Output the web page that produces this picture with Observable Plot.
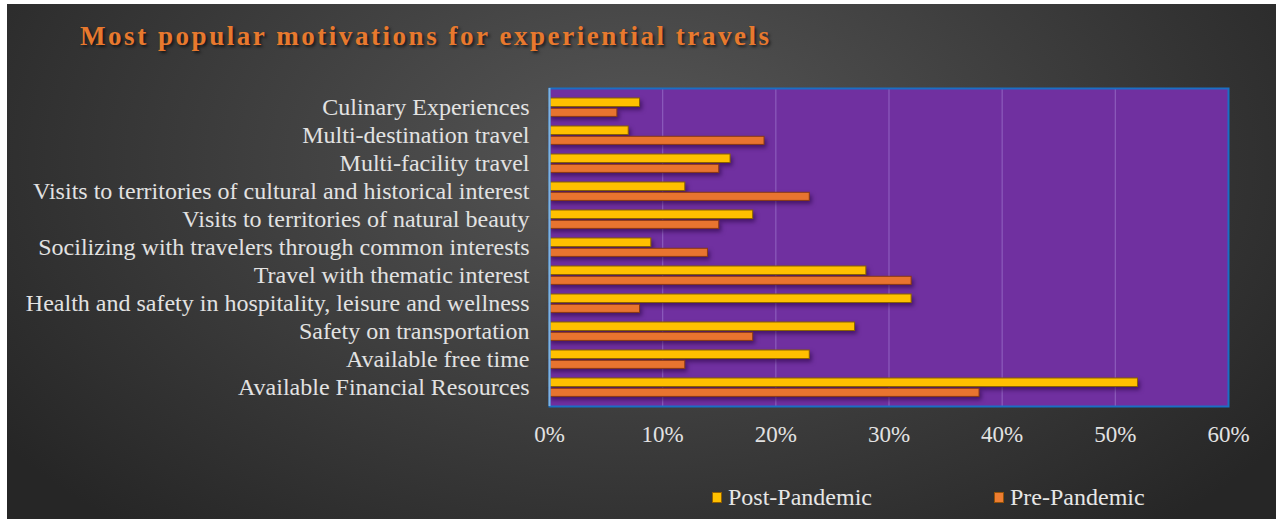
<!DOCTYPE html>
<html>
<head>
<meta charset="utf-8">
<script src="https://cdn.jsdelivr.net/npm/d3@7"></script>
<script src="https://cdn.jsdelivr.net/npm/@observablehq/plot@0.6"></script>
<style>
  html, body { margin: 0; padding: 0; background: #ffffff; }
  #page { position: relative; width: 1276px; height: 519px; overflow: hidden; }
  #chart {
    position: absolute; left: 7px; top: 4px; width: 1269px; height: 515px;
    background: radial-gradient(ellipse 62% 95% at 50% 30%, #575757 0%, #3c3c3c 55%, #262626 100%);
    font-family: "Liberation Serif", "Times New Roman", serif;
  }
  #title {
    position: absolute; left: 73px; top: 17px;
    font-size: 27px; font-weight: bold; letter-spacing: 2.55px; color: #E8792E;
    text-shadow: 2px 2px 3px rgba(0,0,0,0.6); white-space: nowrap;
  }
  #plot { position: absolute; left: 0; top: 0; }
  .legend-item { position: absolute; top: 480px; font-size: 24px; color: #e6e6e6; white-space: nowrap; display: flex; align-items: center; }
  .swatch { display: inline-block; width: 8px; height: 9px; margin-right: 6px; border: 1px solid rgba(120,70,0,0.8); }
  svg g[aria-label="bar"] { filter: drop-shadow(2px 3px 2px rgba(35,0,60,0.55)); }
  svg g[aria-label="x-axis tick label"] { font-size: 23px; }
</style>
</head>
<body>
<div id="page">
  <div id="chart">
    <div id="title">Most popular motivations for experiential travels</div>
    <div id="plot"></div>
    <div class="legend-item" style="left:705px"><span class="swatch" style="background:#FFC000"></span>Post-Pandemic</div>
    <div class="legend-item" style="left:987px"><span class="swatch" style="background:#ED7D31"></span>Pre-Pandemic</div>
  </div>
</div>
<script>
const categories = [
  "Culinary Experiences",
  "Multi-destination travel",
  "Multi-facility travel",
  "Visits to territories of cultural and historical interest",
  "Visits to territories of natural beauty",
  "Socilizing with travelers through common interests",
  "Travel with thematic interest",
  "Health and safety in hospitality, leisure and wellness",
  "Safety on transportation",
  "Available free time",
  "Available Financial Resources"
];
const postPandemic = [8, 7, 16, 12, 18, 9, 28, 32, 27, 23, 52];
const prePandemic  = [6, 19, 15, 23, 15, 14, 32, 8, 18, 12, 38];
const xTicks = [0, 10, 20, 30, 40, 50, 60];

const postData = categories.map((c, i) => ({category: c, value: postPandemic[i]}));
const preData = categories.map((c, i) => ({category: c, value: prePandemic[i]}));

const chart = Plot.plot({
  width: 1269,
  height: 460,
  marginLeft: 542,
  marginRight: 48,
  marginTop: 84,
  marginBottom: 58,
  style: {background: "transparent", fontFamily: "'Liberation Serif', 'Times New Roman', serif", fontSize: "24px", color: "#e2e2e2", overflow: "visible"},
  x: {domain: [0, 60], ticks: xTicks, tickFormat: d => d + "%", tickSize: 0, tickPadding: 19, label: null},
  y: {domain: categories, padding: 0, tickSize: 0, tickPadding: 20, label: null},
  marks: [
    Plot.frame({fill: "#7030A0"}),
    Plot.ruleX(xTicks.slice(1, -1), {stroke: "#8c5cbc", strokeWidth: 1.2}),
    Plot.barX(postData, {x: "value", y: "category", fill: "#FFC000", stroke: "#8a6200", strokeWidth: 1, insetTop: 5, insetBottom: 14.5}),
    Plot.barX(preData, {x: "value", y: "category", fill: "#E8742F", stroke: "#8a3a14", strokeWidth: 1, insetTop: 15.3, insetBottom: 4.6}),
    Plot.frame({stroke: "#1a6fc4", strokeWidth: 2}),
    Plot.ruleX([0], {stroke: "#7fb2e0", strokeWidth: 2})
  ]
});
document.getElementById("plot").appendChild(chart);
</script>
</body>
</html>
